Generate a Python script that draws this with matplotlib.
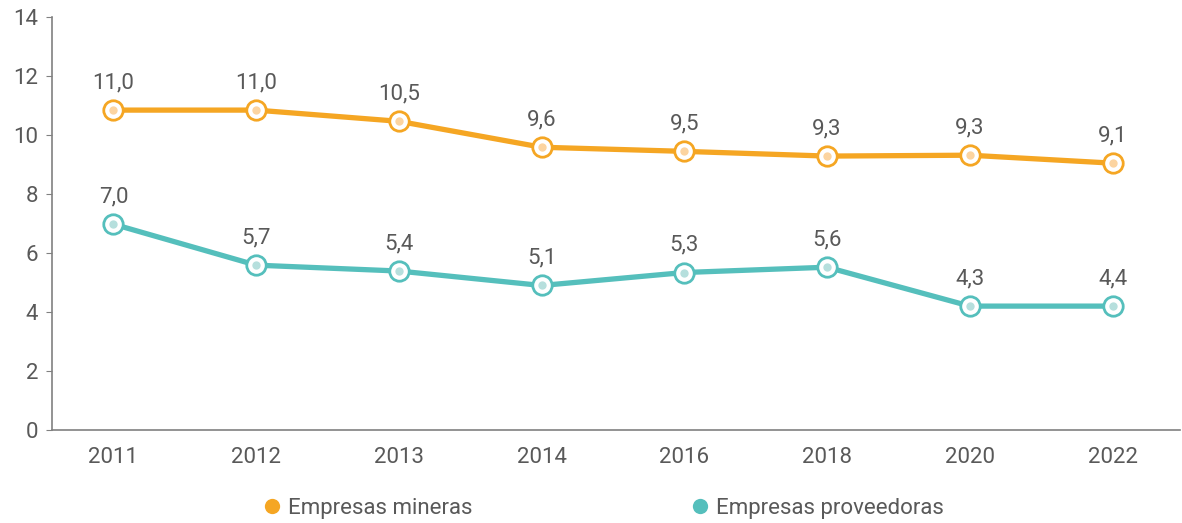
import matplotlib
matplotlib.use("Agg")
import matplotlib.pyplot as plt
from matplotlib.lines import Line2D

plt.rcParams["font.family"] = ["Liberation Sans Narrow", "Roboto", "DejaVu Sans"]

YEARS = ["2011", "2012", "2013", "2014", "2016", "2018", "2020", "2022"]
MINERAS = [10.85, 10.85, 10.47, 9.59, 9.45, 9.29, 9.32, 9.05]
PROVEEDORAS = [6.98, 5.59, 5.39, 4.90, 5.34, 5.52, 4.20, 4.20]
MINERAS_LABELS = ["11,0", "11,0", "10,5", "9,6", "9,5", "9,3", "9,3", "9,1"]
PROVEEDORAS_LABELS = ["7,0", "5,7", "5,4", "5,1", "5,3", "5,6", "4,3", "4,4"]

ORANGE = "#F5A623"
ORANGE_LIGHT = "#FCD4A0"
TEAL = "#55BFBC"
TEAL_LIGHT = "#B6DFDD"
TEXT = "#595959"
SPINE = "#808080"

fig = plt.figure(figsize=(11.82, 5.23), dpi=100)
ax = fig.add_axes([0.044, 0.178, 0.954, 0.789])

x = list(range(len(YEARS)))
series = [
    (MINERAS, MINERAS_LABELS, ORANGE, ORANGE_LIGHT),
    (PROVEEDORAS, PROVEEDORAS_LABELS, TEAL, TEAL_LIGHT),
]

for vals, labels, col, light in series:
    ax.plot(x, vals, color=col, linewidth=3.8, zorder=2,
            marker="o", markersize=14, markerfacecolor="white",
            markeredgecolor=col, markeredgewidth=2.0)
    ax.plot(x, vals, linestyle="none", marker="o", markersize=6,
            markerfacecolor=light, markeredgecolor="none", zorder=3)
    for xi, v, lab in zip(x, vals, labels):
        ax.annotate(lab, (xi, v), xytext=(0, 12), textcoords="offset points",
                    ha="center", va="bottom", fontsize=16, color=TEXT)

ax.set_xlim(-0.43, 7.47)
ax.set_ylim(0, 14)
ax.set_yticks(range(0, 15, 2))
ax.set_xticks(x)
ax.set_xticklabels(YEARS)
ax.tick_params(axis="y", length=4, color=SPINE, labelsize=16, labelcolor=TEXT, pad=6)
ax.tick_params(axis="x", length=0, labelsize=16, labelcolor=TEXT, pad=12)

for side in ["top", "right"]:
    ax.spines[side].set_visible(False)
for side in ["left", "bottom"]:
    ax.spines[side].set_color(SPINE)
    ax.spines[side].set_linewidth(1.2)

legend_items = [
    (ORANGE, "Empresas mineras", 0.204),
    (TEAL, "Empresas proveedoras", 0.566),
]
for col, name, xpos in legend_items:
    h = Line2D([], [], linestyle="none", marker="o", markersize=11,
               markerfacecolor=col, markeredgecolor="none", label=name)
    fig.legend(handles=[h], loc="center left", bbox_to_anchor=(xpos, 0.028),
               frameon=False, fontsize=16, labelcolor=TEXT,
               handletextpad=0.2, handlelength=1.0)

fig.savefig("out.png", dpi=100)
